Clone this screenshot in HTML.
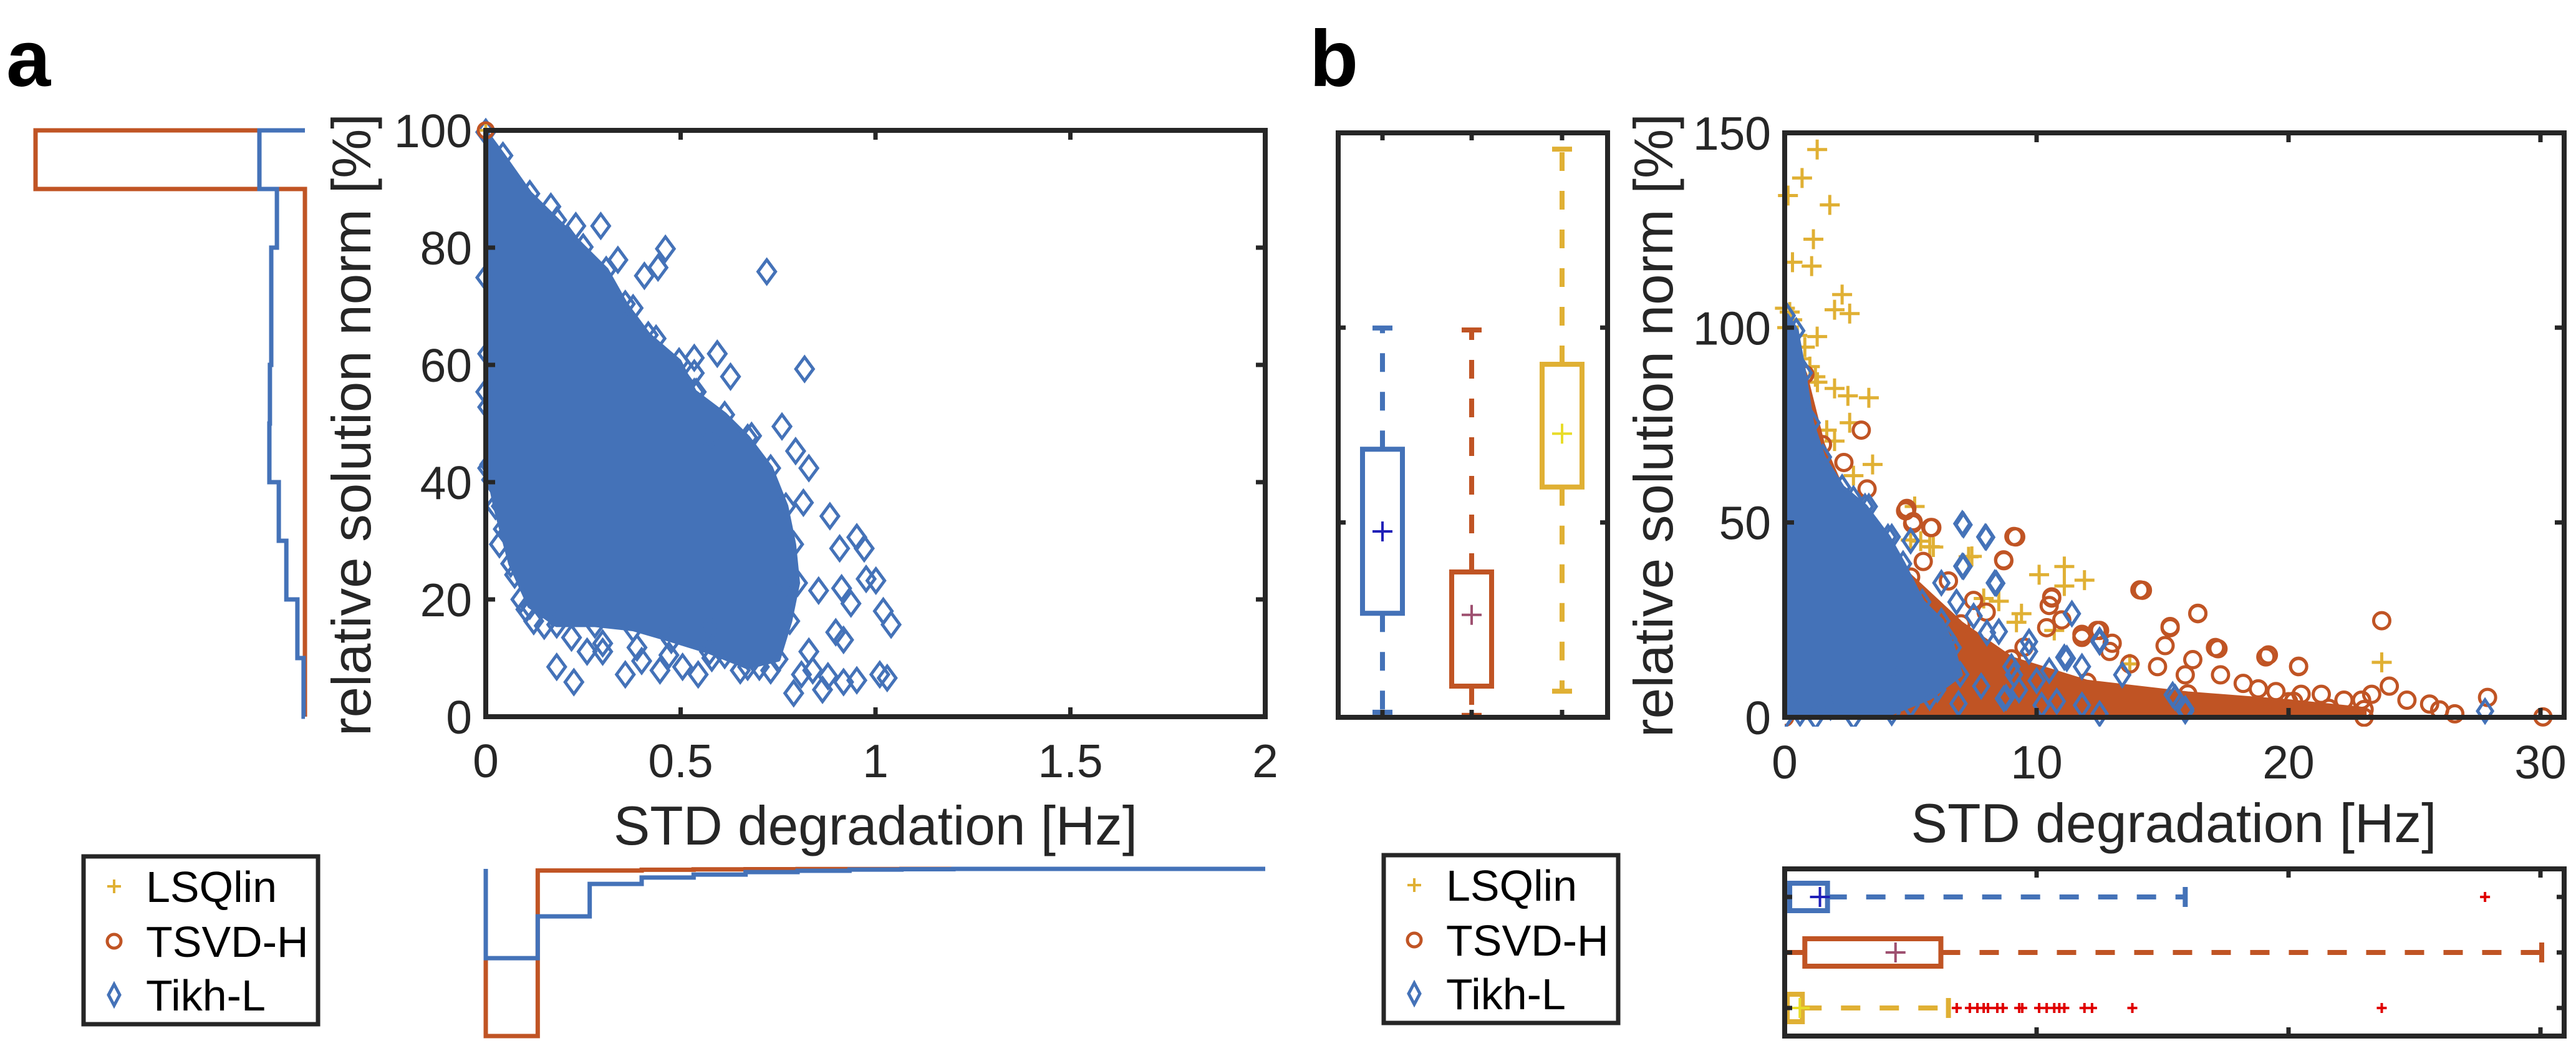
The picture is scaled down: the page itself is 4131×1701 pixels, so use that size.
<!DOCTYPE html>
<html><head><meta charset="utf-8"><style>
html,body{margin:0;padding:0;background:#fff;}
svg{display:block;font-family:"Liberation Sans",Arial,sans-serif;}
</style></head><body>
<svg id="fig" width="4131" height="1701" viewBox="0 0 4131 1701" xmlns="http://www.w3.org/2000/svg"></svg>
<script>
// ---------- DATA ----------
const aCoreX=[0,0.044,0.113,0.182,0.25,0.309,0.358,0.417,0.496,0.535,0.613,0.672,0.731,0.77,0.79,0.80,0.78,0.75,0.672,0.574,0.476,0.378,0.28,0.182,0.113,0.064,0.025,0.005,0,0];
const aCoreY=[99.7,95.7,89.2,84.7,80.1,76.2,70.4,65.1,60.6,55.4,51.5,47.6,42.4,35.9,29.4,22.8,16.3,9.8,8.5,11.1,13.1,15.0,15.7,15.7,18.9,26.1,35.9,42.4,55.4,74.9];
const aTikhX=[0.167,0.231,0.295,0.461,0.407,0.442,0.721,0.339,0.594,0.628,0.818,0.535,0.540,0.555,0.682,0.760,0.795,0.829,0.815,0.883,0.952,0.971,0.908,1.001,0.976,1.020,1.040,0.937,0.913,0.898,0.918,0.854,0.829,0.182,0.226,0.358,0.447,0.505,0.545,0.653,0.790,0.864,0.878,0.918,0.952,1.011,1.030,0.810,0.839,0.731,0.702,0.103,0.123,0.040,0.045,0.035,0.074,0.010,0.015,0.005,0.005,0.260,0.300,0.388,0.613,0.672,0.574,0.672,0.731,0.751,0.770,0.751,0.672,0.574,0.476,0.535,0.437,0.378,0.319,0.270,0.62,0.70,0.66,0.58,0.47,0.40,0.30,0.22,0.15,0.09];
const aTikhY=[87.0,83.7,83.7,79.8,75.2,76.6,75.9,77.9,61.9,58.0,59.3,61.2,55.4,52.1,47.9,49.5,45.3,42.4,36.5,34.2,30.6,28.7,28.7,23.2,23.5,18.0,15.7,19.3,21.9,14.4,13.1,21.5,11.1,8.5,5.9,7.2,7.9,8.5,7.2,7.9,4.0,4.6,6.9,5.9,6.2,7.2,6.6,7.2,7.9,7.9,8.5,18.3,16.3,35.9,32.0,29.4,24.2,43.0,40.4,61.9,52.8,11.1,11.1,11.8,10.5,11.1,47.6,42.4,35.9,29.4,22.8,16.3,13.1,15.0,13.1,58.6,64.5,69.7,72.4,76.2,20.5,25.0,12.5,10.0,10.5,9.5,12.5,13.5,15.5,20.0];
const histYEdges=[100,90,80,70,60,50,40,30,20,10,0];
const histYTsvd=[1,0,0,0,0,0,0,0,0,0];
const histYTikh=[0.169,0.104,0.125,0.125,0.13,0.132,0.097,0.069,0.028,0.005];
const histXTsvd=[1,0.01,0.01,0.005,0.003,0.002,0.001,0.001,0,0,0,0,0,0,0];
const histXTikh=[0.534,0.284,0.09,0.052,0.034,0.019,0.011,0.004,0.002,0,0,0,0,0,0];
const boxCats=['Tikh-L','TSVD-H','LSQlin'];
const boxMin=[1.3,0.5,6.7];
const boxQ1=[26.7,8.0,59.1];
const boxQ3=[68.8,37.3,90.6];
const boxMax=[99.9,99.4,145.8];
const boxMean=[47.7,26.3,72.8];
const bTikhCoreX=[0.08,0.46,0.76,1.07,1.52,2.28,3.19,4.10,4.70,5.46,6.22,6.67,6.97,5.76,4.25,2.73,1.22,0,0];
const bTikhCoreY=[103.1,99.2,88.4,75.6,66.8,59.0,54.1,46.3,39.4,29.6,24.7,17.9,11.0,5.1,1.2,0,0,0,100.1];
const bTsvdCoreX=[0,0.8,1.5,2.5,3.5,5,7,9,12,16,20,23,23,0];
const bTsvdCoreY=[100,88,70,55,46,36,24,15,9,6,4,2,0,0];
const bTsvdX=[14.1,16.4,23.7,15.3,17.2,19.1,20.4,15.1,16.2,9.1,8.7,5.8,5.1,4.8,10.6,10.5,10.4,11.8,12.5,12.9,13.7,14.8,15.9,17.3,18.2,18.8,20.5,21.3,22.2,22.9,23.3,24.0,24.7,25.6,26.0,27.9,30.1,21.6,26.6,19.5,20.2,3.04,2.35,3.27,4.85,5.08,5.84,9.17,8.69,14.2,16.4,15.3,17.1,19.2,20.4,12.4,11.8,10.6,6.5,7.5,8.0,9.5,11.0,13.0,4.0,5.5];
const bTsvdY=[32.7,26.6,24.8,23.0,17.6,15.5,13.0,18.4,14.8,46.4,40.2,48.7,50.2,53.0,30.9,28.7,23.0,20.5,22.3,16.9,13.7,13.0,10.9,10.9,8.7,7.3,5.9,5.9,4.4,4.4,5.9,8.0,4.4,3.4,1.9,5.1,0.1,2.3,0.9,6.6,4.1,73.7,65.4,58.6,53.6,49.7,48.7,46.3,40.4,32.6,26.7,23.3,17.9,16.0,13.1,22.3,21.3,30.6,35.0,30.0,27.0,18.0,25.0,19.0,44.0,40.0];
const bLsqX=[11.1,11.9,10.1,11.1,8.5,7.9,9.4,9.2,10.7,23.7,5.9,5.4,5.0,7.3,13.7,1.29,0.69,0.13,1.79,1.14,0.31,1.07,2.28,1.98,2.58,0.01,1.29,1.22,1.98,2.51,3.34,2.58,1.67,1.98,3.49,2.73,5.16,5.76,7.43,0.1,0.3,0.5,0.8,1.0,1.3,0.2,0.6];
const bLsqY=[38.7,35.2,36.6,33.7,29.8,30.5,26.6,24.4,22.3,14.1,43.7,45.2,45.5,41.2,13.7,145.7,138.4,133.9,131.5,122.7,116.8,115.8,108.5,104.6,103.6,105.0,97.7,87.4,84.4,82.5,82.0,75.6,73.7,70.9,64.9,62.0,54.1,43.8,41.3,100,102,98,95,90,86,104,92];
const bTikhX=[7.1,8.0,7.1,8.4,11.4,12.5,11.2,9.7,10.0,9.1,13.4,15.4,15.9,12.5,10.8,8.7,27.8,11.8,7.05,7.96,7.05,8.34,11.4,12.5,11.1,0.61,1.82,0.16,5.0,4.25,2.73,3.34,6.22,6.82,8.03,9.70,8.79,10.2,11.8,15.5,15.9,6.06,5.0,3.49,7.5,8.5,9.0,6.5,5.8,4.6,3.9,7.8,9.3,10.5,6.9,5.3];
const bTikhY=[49.4,46.2,38.7,34.4,26.6,19.8,15.1,19.4,9.4,10.9,10.9,5.8,1.6,0.9,4.1,4.8,1.6,13.0,49.7,46.3,38.8,34.5,26.6,19.3,15.4,1.0,2.6,5.1,45.3,46.3,56.1,54.1,34.5,29.6,21.7,16.9,5.1,3.1,3.1,5.1,2.2,7.1,3.1,7.1,26.0,22.0,13.0,20.0,14.0,11.0,4.0,8.0,7.0,12.0,3.5,17.0];
const degMin=[0,0,0];
const degQ1=[0.2,0.8,0.1];
const degQ3=[1.7,6.2,0.7];
const degMax=[15.9,30.05,6.5];
const degMean=[1.4,4.4,0.6];
const degOutTikh=[27.8];
const degOutLsq=[6.83,7.35,7.65,7.9,8.07,8.44,8.66,9.31,9.43,10.1,10.4,10.7,10.9,11.1,11.9,12.2,13.8,23.7];
const aXTicks=[0,0.5,1,1.5,2];
const aXTickLabels=['0','0.5','1','1.5','2'];
const aYTicks=[0,20,40,60,80,100];
const bXTicks=[0,10,20,30];
const bYTicks=[0,50,100,150];

// ---------- RENDER ----------
const NS='http://www.w3.org/2000/svg';
const svg=document.getElementById('fig');
const BLUE='#4472b8',ORANGE='#c05424',YEL='#e0b034',AX='#262626',RED='#e00000';
function mk(tag,attrs,parent){const e=document.createElementNS(NS,tag);for(const k in attrs)e.setAttribute(k,attrs[k]);(parent||svg).appendChild(e);return e;}
function grp(name){const g=mk('g',{});


return g;}
function txt(parent,x,y,s,size,anchor,extra){const t=mk('text',Object.assign({x:x,y:y,'font-size':size,'text-anchor':anchor||'middle',fill:'#262626'},extra||{}),parent);t.textContent=s;return t;}

const ax=v=>779+v*625, ay=v=>1149-v*9.4;
const bx=v=>2862+v*40.4, by=v=>1150-v*6.247;
const pbx=i=>[2217,2360,2505][i];
const rowY=i=>[1438,1527,1616][i];

function diamond(p,x,y,w,h,col){return mk('path',{d:`M${x},${y-h}L${x+w},${y}L${x},${y+h}L${x-w},${y}Z`,fill:'none',stroke:col,'stroke-width':5},p);}
function plus(p,x,y,s,col,sw){return mk('path',{d:`M${x-s},${y}H${x+s}M${x},${y-s}V${y+s}`,stroke:col,'stroke-width':sw||4.5,fill:'none'},p);}
function circ(p,x,y,r,col){return mk('circle',{cx:x,cy:y,r:r,fill:'none',stroke:col,'stroke-width':5},p);}
function poly(p,xs,ys,fx,fy,col){return mk('polygon',{points:xs.map((v,i)=>fx(v)+','+fy(ys[i])).join(' '),fill:col,stroke:col,'stroke-width':8,'stroke-linejoin':'round'},p);}

const la=txt(svg,10,138,'a',128,'start',{'font-weight':'bold',fill:'#000'});


const lb=txt(svg,2100,138,'b',128,'start',{'font-weight':'bold',fill:'#000'});



// ===== Panel a scatter =====
const gA=grp('panel-a-scatter');
const coreA=poly(gA,aCoreX,aCoreY,ax,ay,BLUE);


aCoreX.forEach((v,i)=>{const d=diamond(gA,ax(v),ay(aCoreY[i]),14,19,BLUE);

});
aTikhX.forEach((v,i)=>{const d=diamond(gA,ax(v),ay(aTikhY[i]),14,19,BLUE);

});
const aO=circ(gA,ax(0),ay(100),12,ORANGE);


const aP=plus(gA,ax(0),ay(100),10,YEL);


const fa=mk('rect',{x:779,y:209,width:1250,height:940,fill:'none',stroke:AX,'stroke-width':8},gA);


aXTicks.forEach((v,i)=>{mk('path',{d:`M${ax(v)},1149v-15M${ax(v)},209v15`,stroke:AX,'stroke-width':7},gA);
const t=txt(gA,ax(v),1246,aXTickLabels[i],75);

});
aYTicks.forEach(v=>{mk('path',{d:`M779,${ay(v)}h15M2029,${ay(v)}h-15`,stroke:AX,'stroke-width':7},gA);
const t=txt(gA,757,ay(v)+27,String(v),75,'end');

});
const xla=txt(gA,1404,1354,'STD degradation [Hz]',88,'middle',{textLength:840,lengthAdjust:'spacingAndGlyphs'});


const yla=txt(gA,0,0,'relative solution norm [%]',88,'middle',{transform:'translate(594,681) rotate(-90)',textLength:998,lengthAdjust:'spacingAndGlyphs'});



const gH=grp('panel-a-y-histogram');
function hStairs(vals,col,scale){let d=`M489,${ay(histYEdges[0])}`;vals.forEach((v,i)=>{const x=489-v*scale;d+=`H${x}V${ay(histYEdges[i+1])}`;});d+='H489';return mk('path',{d:d,fill:'none',stroke:col,'stroke-width':7},gH);}
const hs1=hStairs(histYTsvd,ORANGE,432);


const hs2=hStairs(histYTikh,BLUE,432);



const gHB=grp('panel-a-x-histogram');
const binW=2/15;
function vStairs(vals,col,scale){let d=`M${ax(0)},1393`;vals.forEach((v,i)=>{d+=`V${1393+v*scale}H${ax((i+1)*binW)}`;});d+='V1393';return mk('path',{d:d,fill:'none',stroke:col,'stroke-width':7},gHB);}
const vs1=vStairs(histXTsvd,ORANGE,268);


const vs2=vStairs(histXTikh,BLUE,268);



function legend(x0,y0,name){const g=grp(name);
mk('rect',{x:x0,y:y0,width:376,height:269,fill:'#fff',stroke:AX,'stroke-width':7},g);
const ys=[y0+48,y0+136,y0+222];
plus(g,x0+49,ys[0],11,YEL,4);
circ(g,x0+49,ys[1],11,ORANGE);
diamond(g,x0+49,ys[2],9,17,BLUE);
['LSQlin','TSVD-H','Tikh-L'].forEach((s,i)=>{const t=txt(g,x0+100,ys[i]+25,s,70,'start',{fill:'#000'});

});}
legend(134,1373,'panel-a-legend');
legend(2219,1371,'panel-b-legend');

// ===== Panel b boxplot =====
const gB=grp('panel-b-boxplot');
const cols=[BLUE,ORANGE,YEL], meanCols=['#2020b8','#9e5070','#e8dc28'];
boxCats.forEach((c,i)=>{const x=pbx(i);
const w=mk('path',{d:`M${x},${by(boxQ3[i])}V${by(boxMax[i])}M${x},${by(boxQ1[i])}V${by(boxMin[i])}`,stroke:cols[i],'stroke-width':8,'stroke-dasharray':'30 32',fill:'none'},gB);


mk('path',{d:`M${x-16},${by(boxMax[i])}h32M${x-16},${by(boxMin[i])}h32`,stroke:cols[i],'stroke-width':8},gB);
const b=mk('rect',{x:x-32,y:by(boxQ3[i]),width:64,height:by(boxQ1[i])-by(boxQ3[i]),fill:'#fff',stroke:cols[i],'stroke-width':8},gB);


const m=plus(gB,x,by(boxMean[i]),16,meanCols[i],4);


mk('path',{d:`M${x},213v12M${x},1150v-12`,stroke:AX,'stroke-width':7},gB);});
const fb=mk('rect',{x:2146,y:213,width:432,height:937,fill:'none',stroke:AX,'stroke-width':8},gB);


[50,100].forEach(v=>mk('path',{d:`M2146,${by(v)}h12M2578,${by(v)}h-12`,stroke:AX,'stroke-width':7},gB));

// ===== Panel b scatter =====
const gS=grp('panel-b-scatter');
const cp=mk('clipPath',{id:'clipB'},gS);
mk('rect',{x:2862,y:200,width:1262,height:965},cp);
const gL=mk('g',{},gS);


bLsqX.forEach((v,i)=>{const p=plus(gL,bx(v),by(bLsqY[i]),16,YEL,5);

});
const gT=mk('g',{'clip-path':'url(#clipB)'},gS);


const coreT=poly(gT,bTsvdCoreX,bTsvdCoreY,bx,by,ORANGE);


bTsvdCoreX.forEach((v,i)=>{const c=circ(gT,bx(v),by(bTsvdCoreY[i]),13,ORANGE);

});
bTsvdX.forEach((v,i)=>{const c=circ(gT,bx(v),by(bTsvdY[i]),13,ORANGE);

});
const gK=mk('g',{'clip-path':'url(#clipB)'},gS);


const coreK=poly(gK,bTikhCoreX,bTikhCoreY,bx,by,BLUE);


bTikhCoreX.forEach((v,i)=>{const d=diamond(gK,bx(v),by(bTikhCoreY[i]),12,18,BLUE);

});
bTikhX.forEach((v,i)=>{const d=diamond(gK,bx(v),by(bTikhY[i]),12,18,BLUE);

});
const fs=mk('rect',{x:2862,y:213,width:1250,height:937,fill:'none',stroke:AX,'stroke-width':8},gS);


bXTicks.forEach(v=>{mk('path',{d:`M${bx(v)},1150v-15M${bx(v)},213v15`,stroke:AX,'stroke-width':7},gS);
const t=txt(gS,bx(v),1248,String(v),75);

});
bYTicks.forEach(v=>{mk('path',{d:`M2862,${by(v)}h15M4112,${by(v)}h-15`,stroke:AX,'stroke-width':7},gS);
const t=txt(gS,2840,by(v)+27,String(v),75,'end');

});
const xlb=txt(gS,3486,1350,'STD degradation [Hz]',88,'middle',{textLength:843,lengthAdjust:'spacingAndGlyphs'});


const ylb=txt(gS,0,0,'relative solution norm [%]',88,'middle',{transform:'translate(2682,682) rotate(-90)',textLength:1000,lengthAdjust:'spacingAndGlyphs'});



// ===== Panel b bottom boxplot =====
const gD=grp('panel-b-degradation-boxplot');
boxCats.forEach((c,i)=>{const y=rowY(i);
const w=mk('path',{d:`M${bx(degQ3[i])},${y}H${bx(degMax[i])}M${bx(degQ1[i])},${y}H${bx(degMin[i])}`,stroke:cols[i],'stroke-width':8,'stroke-dasharray':'31 31',fill:'none'},gD);


mk('path',{d:`M${bx(degMax[i])},${y-16}v32M${bx(degMin[i])},${y-16}v32`,stroke:cols[i],'stroke-width':8},gD);
const b=mk('rect',{x:bx(degQ1[i]),y:y-22,width:bx(degQ3[i])-bx(degQ1[i]),height:44,fill:'#fff',stroke:cols[i],'stroke-width':8},gD);


const m=plus(gD,bx(degMean[i]),y,16,meanCols[i],4);


mk('path',{d:`M2862,${y}h12M4112,${y}h-12`,stroke:AX,'stroke-width':7},gD);});
degOutTikh.forEach(v=>{const o=plus(gD,bx(v),rowY(0),8,RED,4);

});
degOutLsq.forEach(v=>{const o=plus(gD,bx(v),rowY(2),8,RED,4);

});
const fd=mk('rect',{x:2862,y:1393,width:1250,height:268,fill:'none',stroke:AX,'stroke-width':8},gD);


[10,20,30].forEach(v=>mk('path',{d:`M${bx(v)},1393v14M${bx(v)},1661v-14`,stroke:AX,'stroke-width':7},gD));
</script>
</body></html>
